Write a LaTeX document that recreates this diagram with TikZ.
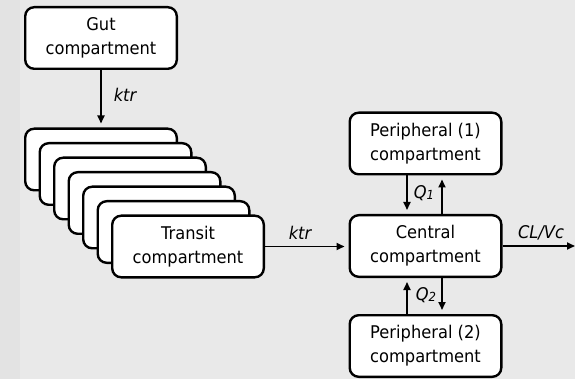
\documentclass[tikz,border=0pt]{standalone}
\usepackage{fontspec}
\setmainfont[FakeStretch=0.93]{DejaVu Sans}
\usetikzlibrary{arrows.meta}
\definecolor{bgmain}{RGB}{233,233,233}
\definecolor{bgstrip}{RGB}{227,227,227}
\newcommand{\rateQ}[1]{Q\raisebox{-1.5pt}{\fontsize{12.5}{12.5}\selectfont #1}}

\begin{document}
\begin{tikzpicture}[x=1pt,y=-1pt,
  comp/.style={draw=black, line width=2.4pt, fill=white, rounded corners=9pt,
    minimum width=151.6pt, minimum height=61.6pt, inner sep=0pt, align=center,
    font=\fontsize{17.5}{24}\selectfont},
  flow/.style={line width=1.8pt, -{Triangle[length=8pt,width=7pt]}, shorten >=4pt},
  rate/.style={font=\fontsize{17.5}{20}\selectfont\itshape, inner sep=0pt}]

  % canvas
  \useasboundingbox (0,0) rectangle (575,379);
  \fill[bgmain] (0,0) rectangle (575,379);
  \fill[bgstrip] (0,0) rectangle (20,379);

  % gut
  \node[comp] (gut) at (101,38) {Gut\\compartment};

  % stacked transit compartments
  \foreach \i in {0,...,5}
    \node[comp] (t\i) at ({101+14.5*\i},{159.5+14.5*\i}) {};
  \node[comp] (t6) at (188,246.5) {Transit\\compartment};

  % central and peripheral compartments
  \node[comp] (central) at (425.5,246) {Central\\compartment};
  \node[comp] (p1) at (425.5,143.5) {Peripheral (1)\\compartment};
  \node[comp] (p2) at (425.5,346) {Peripheral (2)\\compartment};
  \coordinate (out) at (575,246);

  % flows
  \draw[flow] (gut.south) -- (t0.north);
  \node[rate] at (125,95) {ktr};

  \draw[flow] (t6.east) -- (t6.east -| central.west);
  \node[rate] at (300,233) {ktr};

  \draw[flow] ([xshift=-18.5pt]p1.south) -- ([xshift=-18.5pt]central.north);
  \draw[flow] ([xshift=16.5pt]central.north) -- ([xshift=16.5pt]p1.south);
  \node[rate] at (424,193) {\rateQ{1}};

  \draw[flow] ([xshift=-18.5pt]p2.north) -- ([xshift=-18.5pt]central.south);
  \draw[flow] ([xshift=16.5pt]central.south) -- ([xshift=16.5pt]p2.north);
  \node[rate] at (426,295) {\rateQ{2}};

  \draw[flow, shorten >=0pt] (central.east) -- (out);
  \node[rate] at (541,233) {CL/Vc};
\end{tikzpicture}
\end{document}
